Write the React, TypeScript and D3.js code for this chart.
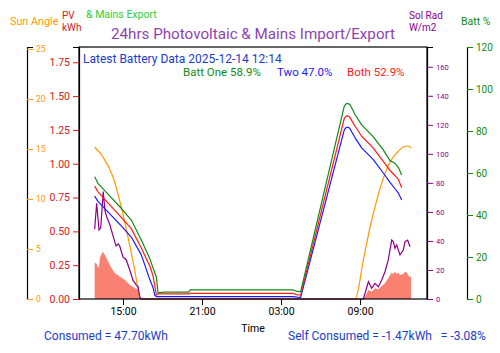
import React, { useEffect, useRef } from "react";
import * as d3 from "d3";

// hours after 12:00 on 13 Dec 2025
const battHrs = [0.85, 1.1, 2.0, 2.87, 3.63, 4.39, 5.05, 5.28, 5.41, 5.53, 5.66, 6.11, 8.0, 8.09, 15.93, 16.2, 16.49, 19.8, 19.93, 20.05, 20.15, 20.24, 20.4, 20.6, 21.12, 21.99, 22.76, 23.27, 23.65, 23.9, 24.16];
const battOne = [58.2, 55.1, 49.0, 43.2, 37.6, 28.1, 19.0, 14.8, 12.5, 10.6, 2.9, 3.3, 3.3, 4.3, 4.3, 3.6, 3.5, 91.8, 92.9, 93.1, 92.9, 92.4, 90.6, 88.0, 82.9, 77.3, 71.0, 65.9, 64.6, 62.7, 59.0];
const battBoth = [53.8, 51.0, 44.8, 38.9, 33.5, 24.3, 15.5, 11.0, 6.5, 1.9, 2.4, 2.4, 2.4, 2.7, 2.7, 2.0, 1.9, 86.0, 87.1, 87.2, 87.0, 86.4, 84.6, 82.5, 77.5, 72.0, 65.5, 61.2, 58.8, 57.0, 53.0];
const battTwo = [49.0, 46.5, 40.5, 34.8, 29.5, 21.0, 9.0, 5.5, 1.9, 1.1, 1.1, 1.1, 1.1, 1.1, 1.1, 0.9, 0.8, 80.5, 81.6, 81.8, 81.6, 81.0, 79.2, 77.0, 72.0, 66.5, 60.0, 55.5, 52.5, 50.5, 47.1];

const sunHrs = [0.85, 1.48, 2.24, 2.87, 3.38, 3.89, 4.34, 20.63, 21.25, 21.76, 22.27, 22.77, 23.27, 23.78, 24.28, 24.66, 24.87];
const sunDeg = [15.2, 14.2, 12.2, 9.2, 6.2, 2.9, 0, 0, 3.9, 7.2, 9.9, 12.1, 13.7, 14.6, 15.2, 15.3, 15.1];

const radHrs = [0.85, 1.0, 1.18, 1.31, 1.5, 1.63, 1.76, 2.01, 2.26, 2.47, 2.64, 2.75, 3.0, 3.25, 3.51, 3.76, 4.01, 4.14, 4.27, 4.37, 21.25, 21.63, 21.88, 22.13, 22.39, 22.64, 22.89, 23.14, 23.4, 23.52, 23.65, 23.78, 24.03, 24.28, 24.41, 24.61, 24.79];
const radWm2 = [48, 66, 47.5, 49, 74, 61, 56.7, 51, 43, 36.5, 37.9, 36.5, 29, 26.9, 20, 13, 9.6, 8.5, 1.6, 0, 0, 11.9, 7.4, 10.8, 8.5, 13.1, 18.8, 26.9, 40.6, 39.5, 34.9, 37.2, 30.3, 33.7, 39.5, 40.6, 36];

const pvHrs = [0.85, 0.95, 1.15, 1.28, 1.46, 1.63, 1.88, 2.14, 2.39, 2.77, 3.15, 3.53, 3.91, 4.16, 4.29, 4.37, 21.12, 21.37, 21.63, 21.88, 22.13, 22.39, 22.64, 22.89, 23.14, 23.4, 23.52, 23.65, 23.78, 23.9, 24.03, 24.28, 24.41, 24.54, 24.73, 24.87];
const pvKwh = [0.264, 0.268, 0.227, 0.313, 0.35, 0.325, 0.276, 0.227, 0.19, 0.165, 0.14, 0.103, 0.079, 0.067, 0.017, 0, 0, 0.017, 0.067, 0.054, 0.079, 0.072, 0.096, 0.116, 0.153, 0.195, 0.185, 0.202, 0.185, 0.195, 0.177, 0.185, 0.202, 0.195, 0.165, 0.165];

const xTickHrs = [3, 9, 15, 21];
const kwhTicks = [0, 0.25, 0.5, 0.75, 1.0, 1.25, 1.5, 1.75];
const sunTicks = [0, 5, 10, 15, 20, 25];
const radTicks = [0, 20, 40, 60, 80, 100, 120, 140, 160];
const battTicks = [0, 20, 40, 60, 80, 100, 120];

const base = new Date(2025, 11, 13, 12, 0).getTime();
const at = (h: number) => new Date(base + h * 3600e3);

const FONT = "Roboto, sans-serif";

const App = () => {
  const svgRef = useRef<SVGSVGElement>(null);

  useEffect(() => {
    const svg = d3.select(svgRef.current);
    svg.selectAll("*").remove();

    const L = 79, R = 427, T = 47, B = 299;

    const x = d3.scaleTime().domain([at(-0.34), at(26.08)]).range([L, R]);
    const yKwh = d3.scaleLinear().domain([0, 1.863]).range([B, T]);
    const ySun = d3.scaleLinear().domain([0, 25.2]).range([B, T]);
    const yRad = d3.scaleLinear().domain([0, 173.6]).range([B, T]);
    const yBatt = d3.scaleLinear().domain([0, 120]).range([B, T]);

    const styleAxis = (g: any, color: string, size: number) => {
      g.select(".domain").attr("stroke", "#000").attr("stroke-width", 1.2);
      g.selectAll(".tick line").attr("stroke", color);
      g.selectAll(".tick text").attr("fill", color).attr("font-size", size).attr("font-family", FONT);
    };

    // PV area
    const pv = pvHrs.map((h, i) => ({ t: at(h), v: pvKwh[i] }));
    svg.append("path")
      .datum(pv)
      .attr("fill", "#fa8072")
      .attr("d", d3.area<any>().x((d) => x(d.t)).y0(yKwh(0)).y1((d) => yKwh(d.v)));

    // sun angle
    const sun = sunHrs.map((h, i) => ({ t: at(h), v: sunDeg[i] }));
    svg.append("path")
      .datum(sun)
      .attr("fill", "none")
      .attr("stroke", "#ff9900")
      .attr("stroke-width", 1.2)
      .attr("d", d3.line<any>().x((d) => x(d.t)).y((d) => ySun(d.v)).curve(d3.curveMonotoneX));

    // solar radiation
    const rad = radHrs.map((h, i) => ({ t: at(h), v: radWm2[i] }));
    svg.append("path")
      .datum(rad)
      .attr("fill", "none")
      .attr("stroke", "#8b008b")
      .attr("stroke-width", 1.2)
      .attr("d", d3.line<any>().x((d) => x(d.t)).y((d) => yRad(d.v)));

    // batteries
    const battLine = d3.line<any>().x((d) => x(d.t)).y((d) => yBatt(d.v));
    [
      { vals: battTwo, color: "#1a1aff" },
      { vals: battBoth, color: "#ff1a1a" },
      { vals: battOne, color: "#128a12" },
    ].forEach((s) => {
      svg.append("path")
        .datum(battHrs.map((h, i) => ({ t: at(h), v: s.vals[i] })))
        .attr("fill", "none")
        .attr("stroke", s.color)
        .attr("stroke-width", 1.2)
        .attr("stroke-linejoin", "round")
        .attr("d", battLine);
    });

    // frame
    svg.append("rect")
      .attr("x", L).attr("y", T).attr("width", R - L).attr("height", B - T)
      .attr("fill", "none").attr("stroke", "#000").attr("stroke-width", 1.2);

    // axes
    svg.append("g")
      .attr("transform", `translate(0,${B})`)
      .call(d3.axisBottom(x).tickValues(xTickHrs.map(at)).tickFormat(d3.timeFormat("%H:%M") as any).tickSizeOuter(0))
      .call((g: any) => styleAxis(g, "#000", 10.5))
      .call((g: any) => g.select(".domain").remove());

    svg.append("g")
      .attr("transform", `translate(${L},0)`)
      .call(d3.axisLeft(yKwh).tickValues(kwhTicks).tickFormat(d3.format(".2f")))
      .call((g: any) => styleAxis(g, "#d21a1a", 10.5));

    svg.append("g")
      .attr("transform", `translate(27,0)`)
      .call(d3.axisRight(ySun).tickValues(sunTicks))
      .call((g: any) => styleAxis(g, "#ff9900", 8.5));

    svg.append("g")
      .attr("transform", `translate(${R},0)`)
      .call(d3.axisRight(yRad).tickValues(radTicks))
      .call((g: any) => styleAxis(g, "#8b008b", 7.5));

    svg.append("g")
      .attr("transform", `translate(467,0)`)
      .call(d3.axisRight(yBatt).tickValues(battTicks))
      .call((g: any) => styleAxis(g, "#128a12", 10));

    const text = (tx: number, ty: number, s: string, color: string, size: number, anchor = "start") =>
      svg.append("text")
        .attr("x", tx).attr("y", ty)
        .attr("fill", color)
        .attr("font-size", size)
        .attr("font-family", FONT)
        .attr("text-anchor", anchor)
        .style("white-space", "pre")
        .text(s);

    text(253, 39, "24hrs Photovoltaic & Mains Import/Export", "#8e44ad", 15.2, "middle");
    text(10, 25, "Sun Angle", "#ff9900", 10.8);
    text(62, 18.5, "PV", "#d21a1a", 10);
    text(62, 30.5, "kWh", "#d21a1a", 10);
    text(86, 18, "& Mains Export", "#2ecc40", 10.5);
    text(409, 18.5, "Sol Rad", "#8b008b", 10);
    text(409, 30.5, "W/m2", "#8b008b", 10);
    text(461, 25, "Batt %", "#128a12", 10.5);

    text(83, 63, "Latest Battery Data 2025-12-14 12:14", "#1a3dc8", 12);
    text(183, 76, "Batt One 58.9%", "#128a12", 11.5);
    text(277, 76, "Two 47.0%", "#1a1aff", 11.5);
    text(347, 76, "Both 52.9%", "#ff1a1a", 11.5);

    text(253, 332, "Time", "#000", 10.5, "middle");
    text(44, 340, "Consumed = 47.70kWh", "#1a3dc8", 12);
    text(288, 340, "Self Consumed = -1.47kWh   = -3.08%", "#1a3dc8", 12);
  }, []);

  return (
    <svg
      ref={svgRef}
      width={500}
      height={353}
      style={{ position: "absolute", left: 0, top: 0, background: "white" }}
    />
  );
};

export default App;
